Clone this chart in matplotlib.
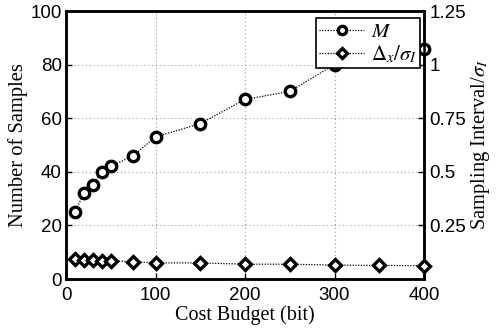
import matplotlib
matplotlib.use("Agg")
import matplotlib.pyplot as plt

plt.rcParams["mathtext.fontset"] = "stix"

budget_m = [10, 20, 30, 40, 50, 75, 100, 150, 200, 250, 300, 400]
samples_m = [25, 32, 35, 40, 42, 46, 53, 58, 67, 70, 80, 86]
budget_d = [10, 20, 30, 40, 50, 75, 100, 150, 200, 250, 300, 350, 400]
interval_d = [0.094, 0.090, 0.088, 0.085, 0.085, 0.081, 0.075, 0.075, 0.069, 0.069, 0.065, 0.063, 0.062]

left_ticks = [0, 20, 40, 60, 80, 100]
right_ticks = [0.25, 0.5, 0.75, 1, 1.25]
right_labels = ["0.25", "0.5", "0.75", "1", "1.25"]
x_ticks = [0, 100, 200, 300, 400]

serif = ["Liberation Serif", "DejaVu Serif"]
sans = ["Liberation Sans", "DejaVu Sans"]

fig = plt.figure(figsize=(4.96, 3.35), dpi=100)
ax = fig.add_axes([66/496, 1-279/335, (424-66)/496, (279-11)/335])
ax2 = ax.twinx()

ax.set_xlim(0, 400)
ax.set_ylim(0, 100)
ax2.set_ylim(0, 1.25)

l1, = ax.plot(budget_m, samples_m, color="black", linestyle=(0, (1, 1.2)), linewidth=0.9,
              marker="o", markersize=7.5, markerfacecolor="white", markeredgewidth=2.4,
              markeredgecolor="black", label=r"$M$", clip_on=False, zorder=5)
l2, = ax2.plot(budget_d, interval_d, color="black", linestyle=(0, (1, 1.2)), linewidth=0.9,
               marker="D", markersize=6.5, markerfacecolor="white", markeredgewidth=2.4,
               markeredgecolor="black", label=r"$\Delta_x/\sigma_I$", clip_on=False, zorder=5)

ax.set_xticks(x_ticks)
ax.set_yticks(left_ticks)
ax2.set_yticks(right_ticks)
ax2.set_yticklabels(right_labels)

ax.grid(True, color="#999999", linestyle=(0, (1, 2.5)), linewidth=0.8)
ax.set_axisbelow(True)

for a in (ax, ax2):
    for s in a.spines.values():
        s.set_linewidth(1.8)
    a.tick_params(direction="in", length=4, width=1, labelsize=13.5)
    for lab in a.get_xticklabels() + a.get_yticklabels():
        lab.set_family(sans)
ax.tick_params(axis="x", pad=6)
ax.tick_params(axis="y", pad=3)
ax2.tick_params(axis="y", pad=4)

ax.set_xlabel("Cost Budget (bit)", fontsize=14.5, family=serif, labelpad=1)
ax.set_ylabel("Number of Samples", fontsize=14.8, family=serif, labelpad=2)
ax2.set_ylabel(r"Sampling Interval/$\sigma_I$", fontsize=14.8, family=serif, labelpad=2)

leg = ax2.legend(handles=[l1, l2], loc="upper right", bbox_to_anchor=(0.99, 0.975),
                 fancybox=False, framealpha=1, edgecolor="black", fontsize=15,
                 handlelength=2.2, handletextpad=0.3, borderpad=0.15, labelspacing=0.1,
                 borderaxespad=0, markerscale=0.8)
leg.get_frame().set_linewidth(1.2)
leg.set_zorder(10)

fig.savefig("out.png", dpi=100)
